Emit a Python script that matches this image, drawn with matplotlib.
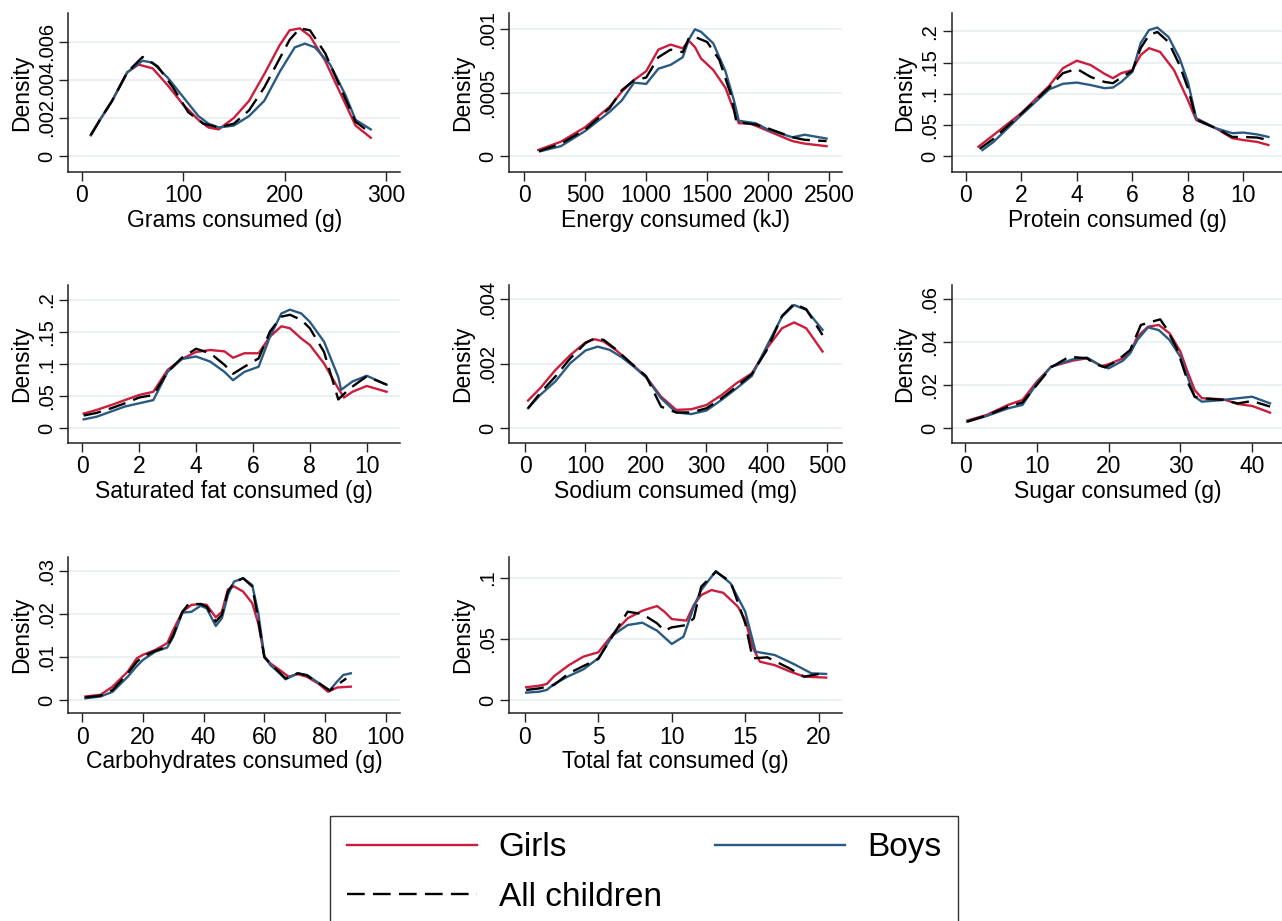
import matplotlib
matplotlib.use("Agg")
import matplotlib.pyplot as plt
from matplotlib.lines import Line2D

plt.rcParams['font.family'] = ['Liberation Sans', 'DejaVu Sans']

# ---------------- data ----------------
# 1 Grams
grams_xg = [9, 18, 30, 45, 56, 70, 85, 100, 115, 125, 135, 150, 165, 180, 195, 205, 215, 225, 240, 255, 270, 285]
grams_g = [.0011, .0019, .0029, .0044, .0048, .0046, .0037, .0027, .0019, .0015, .0014, .0020, .0029, .0043, .0058, .0066, .0067, .0063, .0050, .0033, .0016, .00096]
grams_xb = [9, 18, 30, 45, 60, 70, 85, 100, 115, 125, 135, 150, 165, 180, 195, 210, 220, 230, 245, 260, 270, 285]
grams_b = [.0011, .0019, .0029, .0044, .0050, .0049, .0041, .0031, .0021, .0017, .0015, .0016, .0021, .0029, .0044, .0057, .0059, .0057, .0048, .0032, .0019, .0014]
grams_xa = [9, 18, 30, 45, 60, 75, 90, 105, 120, 135, 150, 165, 180, 195, 205, 215, 225, 240, 255, 270, 285]
grams_a = [.0011, .0019, .0029, .0044, .0052, .0047, .0036, .0023, .0017, .0015, .0017, .0024, .0036, .0051, .0061, .0067, .0066, .0054, .0036, .0018, .0012]

# 2 Energy
energy_xg = [115, 300, 500, 700, 800, 900, 1000, 1100, 1200, 1300, 1350, 1400, 1450, 1550, 1650, 1720, 1760, 1850, 2000, 2200, 2300, 2480]
energy_g = [.00005, .000115, .00023, .00039, .00051, .0006, .00067, .00084, .00088, .00085, .00091, .00086, .00077, .00068, .00054, .00036, .00026, .00026, .0002, .00012, .0001, .00008]
energy_xb = [130, 300, 500, 700, 800, 900, 1000, 1050, 1100, 1200, 1300, 1350, 1400, 1450, 1550, 1650, 1720, 1760, 1900, 2000, 2100, 2200, 2300, 2480]
energy_b = [.00004, .00008, .0002, .00035, .00044, .00058, .00057, .00063, .00069, .00072, .00078, .00092, .001, .00098, .00089, .00067, .00044, .00028, .00026, .00021, .00018, .00015, .00017, .00014]
energy_xa = [120, 300, 500, 700, 800, 900, 1000, 1100, 1200, 1300, 1350, 1400, 1500, 1600, 1700, 1740, 1900, 2000, 2200, 2300, 2480]
energy_a = [.00004, .0001, .00021, .00038, .00052, .0006, .00062, .00078, .00084, .00082, .00093, .00094, .0009, .00076, .00047, .00027, .00025, .00022, .00015, .00013, .00012]

# 3 Protein
protein_xg = [0.46, 1, 2, 3, 3.5, 4, 4.5, 5, 5.3, 5.6, 6, 6.3, 6.6, 7, 7.5, 8, 8.3, 9, 9.6, 10, 10.5, 10.9]
protein_g = [.0155, .034, .069, .1125, .141, .153, .146, .132, .125, .133, .138, .162, .173, .167, .138, .09, .058, .045, .029, .026, .023, .018]
protein_xb = [0.6, 1, 2, 3, 3.5, 4, 4.5, 5, 5.3, 5.6, 6, 6.3, 6.6, 6.9, 7.3, 7.7, 8, 8.3, 9, 9.6, 10, 10.5, 10.9]
protein_b = [.01, .023, .066, .107, .116, .118, .114, .109, .11, .119, .135, .181, .202, .206, .191, .157, .119, .061, .045, .037, .038, .035, .031]
protein_xa = [0.5, 1, 2, 3, 3.5, 4, 4.5, 5, 5.3, 5.6, 6, 6.3, 6.6, 6.9, 7.3, 7.7, 8, 8.3, 9, 9.6, 10, 10.5, 10.9]
protein_a = [.012, .028, .068, .11, .133, .14, .127, .119, .117, .126, .137, .173, .194, .199, .183, .146, .109, .059, .045, .031, .031, .03, .026]

# 4 Saturated fat
satfat_xg = [0.05, 0.5, 1, 1.5, 2, 2.5, 3, 3.5, 4, 4.5, 5, 5.3, 5.7, 6.2, 6.6, 7, 7.3, 7.7, 8, 8.5, 9, 9.2, 9.5, 10, 10.7]
satfat_g = [.023, .0286, .036, .044, .052, .057, .091, .108, .119, .122, .12, .11, .117, .117, .143, .159, .156, .14, .13, .101, .062, .048, .057, .066, .057]
satfat_xb = [0.05, 0.5, 1, 1.5, 2, 2.5, 3, 3.5, 4, 4.5, 5, 5.3, 5.7, 6.2, 6.6, 7, 7.3, 7.7, 8, 8.5, 9, 9.1, 9.5, 10, 10.7]
satfat_b = [.014, .018, .026, .034, .039, .044, .088, .108, .112, .104, .088, .075, .088, .096, .143, .179, .185, .179, .166, .135, .08, .06, .073, .082, .068]
satfat_xa = [0.05, 0.5, 1, 1.5, 2, 2.5, 3, 3.5, 4, 4.5, 5, 5.3, 5.7, 6.2, 6.6, 7, 7.3, 7.7, 8, 8.5, 8.9, 9.0, 9.4, 10, 10.7]
satfat_a = [.02, .024, .031, .039, .048, .052, .088, .11, .124, .117, .099, .085, .096, .109, .151, .174, .177, .169, .156, .119, .06, .045, .062, .081, .068]

# 5 Sodium
sodium_xg = [5, 25, 50, 75, 100, 115, 130, 150, 175, 200, 225, 250, 275, 300, 325, 350, 375, 400, 425, 445, 465, 492]
sodium_g = [.00086, .00124, .0018, .00227, .00266, .00276, .00269, .00243, .00202, .0016, .00098, .00057, .00059, .00072, .00103, .0014, .0017, .00248, .0031, .00328, .0031, .00238]
sodium_xb = [5, 25, 50, 75, 100, 120, 140, 160, 180, 200, 225, 250, 275, 300, 325, 350, 375, 400, 425, 445, 465, 492]
sodium_b = [.00062, .00103, .00145, .00202, .00241, .00253, .00243, .0022, .00191, .00158, .00093, .00049, .00044, .00055, .00088, .00124, .00162, .00255, .00346, .00382, .00367, .00305]
sodium_xa = [5, 25, 50, 75, 100, 115, 130, 150, 175, 200, 225, 250, 275, 300, 325, 350, 375, 400, 425, 445, 465, 492]
sodium_a = [.00062, .00109, .0016, .00217, .00264, .00279, .00274, .00245, .00202, .00162, .00067, .00049, .00049, .00062, .00093, .00129, .00168, .00243, .00348, .00386, .00369, .00289]

# 6 Sugar
sugar_xg = [0.3, 3, 6, 8, 10, 12, 15, 17, 19, 20, 22, 23, 24, 25.5, 27, 28.5, 30, 31, 32, 33, 36, 38, 40, 42.5]
sugar_g = [.0036, .0062, .0109, .0132, .0217, .0287, .0315, .0326, .029, .0298, .0326, .0352, .0426, .0473, .0481, .0442, .0357, .0264, .0178, .014, .0135, .0113, .0104, .0073]
sugar_xb = [0.3, 3, 6, 8, 10, 12, 15, 17, 19, 20, 22, 23, 24, 25.5, 27, 28.5, 30, 31, 32, 33, 36, 38, 40, 42.5]
sugar_b = [.0031, .0057, .0093, .0109, .0209, .0287, .0321, .0329, .029, .0279, .0315, .0349, .0411, .047, .0457, .0411, .0333, .024, .0147, .0124, .0132, .014, .0147, .0116]
sugar_xa = [0.3, 3, 6, 8, 10, 12, 14.5, 17, 18, 19.5, 21, 23, 24.5, 26, 27.2, 28.2, 29.5, 31.2, 32, 33, 36, 38, 40, 42.5]
sugar_a = [.0031, .006, .0101, .012, .0202, .0284, .0333, .0326, .03, .0284, .031, .0364, .0481, .0496, .0507, .0457, .0372, .0202, .0147, .014, .0132, .0116, .0127, .0101]

# 7 Carbohydrates
carbs_xg = [1, 6, 10, 15, 18, 20, 24, 28, 30, 33, 36, 39, 41, 44, 46, 48, 50, 53, 56, 58, 60, 62, 65, 68, 71, 74, 78, 81, 84, 88.5]
carbs_g = [.0008, .0012, .0031, .0066, .0097, .0105, .0116, .0132, .0163, .0205, .0221, .0223, .0221, .0192, .0205, .0257, .0264, .0252, .0225, .0178, .0101, .0085, .007, .0054, .006, .0054, .0037, .0019, .0029, .0031]
carbs_xb = [1, 6, 10, 15, 18, 20, 24, 28, 30, 33, 36, 39, 41, 44, 46, 48, 50, 53, 56, 58, 60, 62, 65, 67, 71, 74, 78, 81.5, 84, 86, 88.5]
carbs_b = [.0004, .0008, .0019, .0054, .0079, .0093, .0112, .0122, .0147, .0203, .0205, .0219, .0213, .0172, .019, .0244, .0275, .0283, .0267, .0202, .0101, .0081, .0062, .0048, .0062, .0058, .0039, .0022, .0043, .0058, .0062]
carbs_xa = [1, 6, 10, 15, 18, 20, 24, 28, 30, 33, 35, 39, 41, 44, 46, 48, 50, 53, 56, 58, 60, 62, 65, 67, 71, 74, 78, 81.5, 84, 87]
carbs_a = [.0006, .001, .0023, .0062, .0089, .0101, .0114, .0124, .0151, .0205, .0223, .0223, .0217, .0182, .0198, .0252, .0273, .0283, .0264, .0186, .0099, .0085, .0064, .005, .0062, .0057, .0039, .0022, .0035, .005]

# 8 Total fat
fat_xg = [0.1, 1, 1.5, 2, 3, 4, 5, 6, 7, 8, 8.5, 9, 9.5, 10, 11, 11.5, 12, 12.7, 13.5, 14.5, 15, 15.5, 16, 17, 18, 19, 20.5]
fat_g = [.0104, .0117, .0131, .0195, .0285, .0355, .039, .054, .0668, .073, .075, .0768, .0722, .0662, .0649, .0777, .0858, .0899, .0877, .0763, .0654, .0431, .0313, .0285, .0235, .0191, .0183]
fat_xb = [0.1, 1, 1.5, 2, 3, 4, 5, 6, 7, 8, 9, 10, 10.8, 11.5, 12, 13, 14, 15, 15.7, 17, 18.3, 19.5, 20.5]
fat_b = [.006, .0068, .0082, .0131, .0196, .0251, .0341, .053, .0613, .0632, .0567, .0458, .0518, .0763, .0899, .1054, .0954, .0722, .0395, .0368, .0294, .0218, .0213]
fat_xa = [0.1, 1, 2, 3, 4, 5, 6, 7, 8, 9, 9.5, 10, 11, 11.5, 12, 13, 14, 15, 15.5, 16.5, 18, 19, 20.5]
fat_a = [.0082, .0095, .0123, .0218, .0278, .0335, .053, .0722, .0703, .0627, .0567, .0594, .0613, .0668, .0926, .1049, .0967, .0627, .0341, .0349, .0259, .0191, .0223]

x_labels = ["Grams consumed (g)", "Energy consumed (kJ)", "Protein consumed (g)",
            "Saturated fat consumed (g)", "Sodium consumed (mg)", "Sugar consumed (g)",
            "Carbohydrates consumed (g)", "Total fat consumed (g)"]

xticks_list = [[0, 100, 200, 300], [0, 500, 1000, 1500, 2000, 2500], [0, 2, 4, 6, 8, 10],
               [0, 2, 4, 6, 8, 10], [0, 100, 200, 300, 400, 500], [0, 10, 20, 30, 40],
               [0, 20, 40, 60, 80, 100], [0, 5, 10, 15, 20]]
yticks_list = [[0, .002, .004, .006], [0, .0005, .001], [0, .05, .1, .15, .2],
               [0, .05, .1, .15, .2], [0, .002, .004], [0, .02, .04, .06],
               [0, .01, .02, .03], [0, .05, .1]]
ytick_labels = [["0", ".002", ".004", ".006"], ["0", ".0005", ".001"], ["0", ".05", ".1", ".15", ".2"],
                ["0", ".05", ".1", ".15", ".2"], ["0", ".002", ".004"], ["0", ".02", ".04", ".06"],
                ["0", ".01", ".02", ".03"], ["0", ".05", ".1"]]
xlims = [(-13.2, 313.8), (-123, 2609), (-0.504, 11.45), (-0.49, 11.17), (-26, 524.7),
         (-1.86, 44.4), (-4.6, 104.7), (-1.05, 21.6)]
ylims = [(-.00082, .00749), (-.000121, .001126), (-.0246, .2288), (-.0224, .2234),
         (-.000447, .00444), (-.0067, .0667), (-.0031, .0333), (-.0109, .1172)]

series = [
    (grams_xg, grams_g, grams_xb, grams_b, grams_xa, grams_a),
    (energy_xg, energy_g, energy_xb, energy_b, energy_xa, energy_a),
    (protein_xg, protein_g, protein_xb, protein_b, protein_xa, protein_a),
    (satfat_xg, satfat_g, satfat_xb, satfat_b, satfat_xa, satfat_a),
    (sodium_xg, sodium_g, sodium_xb, sodium_b, sodium_xa, sodium_a),
    (sugar_xg, sugar_g, sugar_xb, sugar_b, sugar_xa, sugar_a),
    (carbs_xg, carbs_g, carbs_xb, carbs_b, carbs_xa, carbs_a),
    (fat_xg, fat_g, fat_xb, fat_b, fat_xa, fat_a),
]

RED = "#cc1d3d"
BLUE = "#2a5a82"
GRID = "#e9eff2"
LW = 1.7
DASH = (7.5, 3.5)

W, H = 1282, 921
fig = plt.figure(figsize=(W / 100, H / 100), dpi=100)

col_left = [68.3, 509.3, 951.7]
col_w = [331.7, 333.0, 332.0]
row_top = [13.3, 285.0, 556.7]
row_bot = [171.7, 442.7, 713.3]

for i in range(8):
    r, c = divmod(i, 3)
    left = col_left[c] / W
    bottom = 1 - row_bot[r] / H
    width = col_w[c] / W
    height = (row_bot[r] - row_top[r]) / H
    ax = fig.add_axes([left, bottom, width, height])
    xg, g, xb, b, xa, a = series[i]
    ax.plot(xg, g, color=RED, lw=LW, zorder=3, solid_joinstyle="round")
    ax.plot(xb, b, color=BLUE, lw=LW, zorder=3, solid_joinstyle="round")
    ax.plot(xa, a, color="black", lw=LW, dashes=DASH, zorder=4)
    ax.set_xlim(*xlims[i])
    ax.set_ylim(*ylims[i])
    ax.set_xticks(xticks_list[i])
    ax.set_yticks(yticks_list[i])
    ax.set_yticklabels(ytick_labels[i], rotation=90, va="center")
    for yv in yticks_list[i]:
        ax.axhline(yv, color=GRID, lw=1.3, zorder=1)
    ax.spines["top"].set_visible(False)
    ax.spines["right"].set_visible(False)
    for s in ("left", "bottom"):
        ax.spines[s].set_linewidth(1.1)
        ax.spines[s].set_color("#222222")
    ax.tick_params(axis="both", direction="out", length=6.5, width=1.0, color="#222222",
                   pad=2.5)
    ax.tick_params(axis="x", labelsize=16.5)
    ax.tick_params(axis="y", labelsize=14.5)
    ax.set_xlabel(x_labels[i], fontsize=16.5, labelpad=1)
    ax.set_ylabel("Density", fontsize=16.5, labelpad=3)
    ax.set_facecolor("white")

handles = [Line2D([], [], color=RED, lw=LW),
           Line2D([], [], color="black", lw=LW, dashes=DASH),
           Line2D([], [], color=BLUE, lw=LW)]
labels = ["Girls", "All children", "Boys"]
leg = fig.legend(handles, labels, ncol=2, loc="upper left",
                 bbox_to_anchor=(330 / W, 1 - 815.7 / H),
                 fontsize=24, frameon=True, fancybox=False, edgecolor="black",
                 handlelength=3.9, handletextpad=0.66, columnspacing=1.6,
                 labelspacing=0.56, borderpad=0.5, borderaxespad=0)
leg.get_frame().set_linewidth(1.0)

fig.savefig("out.png", dpi=100, facecolor="white")
